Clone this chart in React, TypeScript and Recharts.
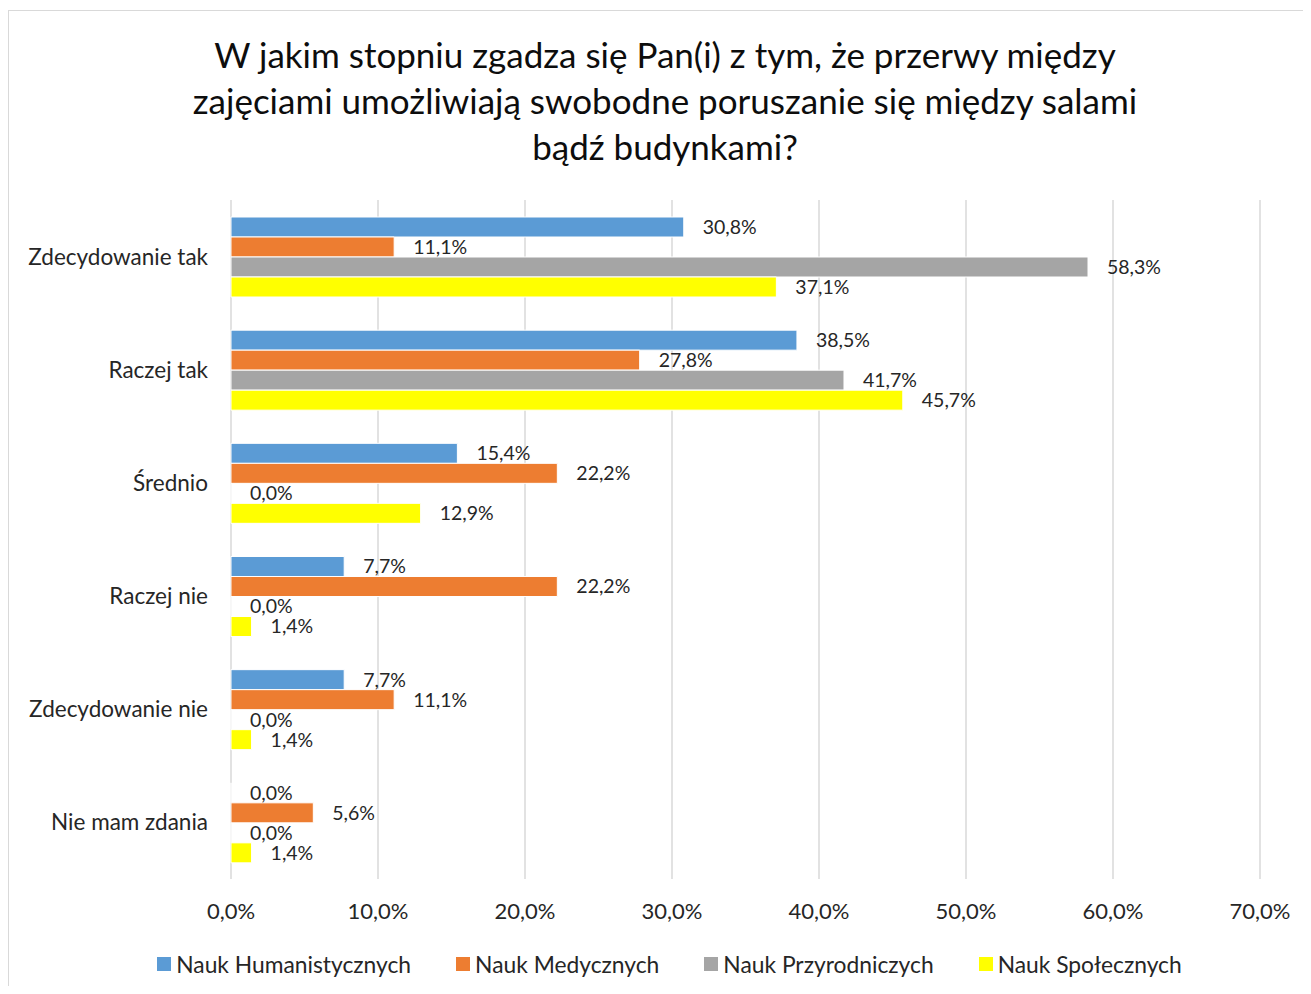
import { Bar, BarChart, CartesianGrid, LabelList, XAxis, YAxis } from 'recharts';

const categories = ['Zdecydowanie tak', 'Raczej tak', 'Średnio', 'Raczej nie', 'Zdecydowanie nie', 'Nie mam zdania'];
const humanistyczne = [30.8, 38.5, 15.4, 7.7, 7.7, 0.0];
const medyczne = [11.1, 27.8, 22.2, 22.2, 11.1, 5.6];
const przyrodnicze = [58.3, 41.7, 0.0, 0.0, 0.0, 0.0];
const spoleczne = [37.1, 45.7, 12.9, 1.4, 1.4, 1.4];
const xTicks = [0, 10, 20, 30, 40, 50, 60, 70];

const series = [
  { key: 'hum', name: 'Nauk Humanistycznych', color: '#5B9BD5' },
  { key: 'med', name: 'Nauk Medycznych', color: '#ED7D31' },
  { key: 'prz', name: 'Nauk Przyrodniczych', color: '#A5A5A5' },
  { key: 'spo', name: 'Nauk Społecznych', color: '#FFFF00' },
];

const data = categories.map((c, i) => ({
  category: c,
  hum: humanistyczne[i],
  med: medyczne[i],
  prz: przyrodnicze[i],
  spo: spoleczne[i],
}));

const FONT = 'Lato, "Open Sans", sans-serif';
const pct = (v: number) => v.toFixed(1).replace('.', ',') + '%';

export default function App() {
  return (
    <div style={{ position: 'relative', width: 1311, height: 994, margin: -8, fontFamily: FONT, overflow: 'hidden' }}>
      <div
        style={{
          position: 'absolute',
          left: 8,
          top: 10,
          width: 1320,
          height: 1000,
          border: '1.5px solid #d9d9d9',
        }}
      />
      <div
        style={{
          position: 'absolute',
          top: 31,
          left: 0,
          width: 1330,
          textAlign: 'center',
          fontSize: 35,
          lineHeight: '46px',
          color: '#0d0d0d',
        }}
      >
        W jakim stopniu zgadza się Pan(i) z tym, że przerwy między
        <br />
        zajęciami umożliwiają swobodne poruszanie się między salami
        <br />
        bądź budynkami?
      </div>
      <div style={{ position: 'absolute', left: 0, top: 0 }}>
        <BarChart
          width={1311}
          height={994}
          data={data}
          layout="vertical"
          margin={{ top: 200, right: 51, bottom: 75, left: 8 }}
          barCategoryGap={17}
          barGap={0}
        >
          <CartesianGrid horizontal={false} stroke="#d9d9d9" strokeWidth={1.5} />
          <XAxis
            type="number"
            domain={[0, 70]}
            ticks={xTicks}
            tickFormatter={pct}
            axisLine={false}
            tickLine={false}
            tickSize={0}
            tickMargin={24}
            height={40}
            tick={{ fontSize: 22, fill: '#262626', fontFamily: FONT }}
          />
          <YAxis
            type="category"
            dataKey="category"
            width={223}
            axisLine={false}
            tickLine={false}
            tickSize={0}
            tickMargin={23}
            tick={{ fontSize: 22.5, fill: '#262626', fontFamily: FONT }}
          />
          {series.map((s) => (
            <Bar
              key={s.key}
              dataKey={s.key}
              name={s.name}
              fill={s.color}
              stroke="#ffffff"
              strokeWidth={1}
              minPointSize={0.01}
              isAnimationActive={false}
            >
              <LabelList
                dataKey={s.key}
                position="right"
                offset={19}
                formatter={(v: number) => pct(v)}
                style={{ fontSize: 19.5, fill: '#262626', fontFamily: FONT }}
              />
            </Bar>
          ))}
        </BarChart>
      </div>
      <div
        style={{
          position: 'absolute',
          top: 950,
          left: 0,
          width: 1339,
          display: 'flex',
          justifyContent: 'center',
          gap: 45,
          fontSize: 22.8,
          color: '#262626',
        }}
      >
        {series.map((s) => (
          <div key={s.key} style={{ display: 'flex', alignItems: 'center', gap: 5 }}>
            <span style={{ width: 14, height: 14, background: s.color, display: 'inline-block' }} />
            <span>{s.name}</span>
          </div>
        ))}
      </div>
    </div>
  );
}
